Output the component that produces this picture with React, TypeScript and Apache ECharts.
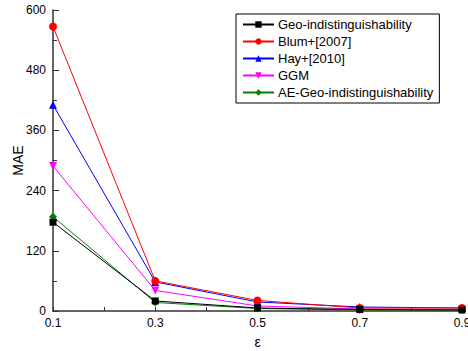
import React, { useEffect, useRef } from "react";
import * as echarts from "echarts";

const epsilons = [0.1, 0.3, 0.5, 0.7, 0.9];
const seriesNames = [
  "Geo-indistinguishability",
  "Blum+[2007]",
  "Hay+[2010]",
  "GGM",
  "AE-Geo-indistinguishability",
];
const geoInd = [177, 20, 6, 3, 2];
const blum = [567, 60, 21, 6, 6];
const hay = [411, 58, 18, 8, 6];
const ggm = [289, 41, 10, 4, 3];
const aeGeo = [188, 17, 5, 2, 2];
const yTicks = [0, 120, 240, 360, 480, 600];

const colors = ["#000000", "#ff0000", "#0000ff", "#ff00ff", "#008000"];
const symbols = [
  "rect",
  "circle",
  "triangle",
  "path://M0,0 L10,0 L5,10 Z",
  "diamond",
];
const symbolSizes = [7, 8, 8, 8, 8];

export default function App() {
  const ref = useRef<HTMLDivElement>(null);
  useEffect(() => {
    if (!ref.current) return;
    const chart = echarts.init(ref.current, undefined, { renderer: "svg" });
    const all = [geoInd, blum, hay, ggm, aeGeo];
    const font = "Liberation Sans, Arial, sans-serif";
    chart.setOption({
      animation: false,
      backgroundColor: "#ffffff",
      grid: {
        left: 53,
        right: 6,
        top: 10,
        bottom: 40,
        containLabel: false,
        outerBoundsMode: "none",
      },
      legend: {
        orient: "vertical",
        left: 236,
        top: 14,
        padding: [4, 6, 4, 6],
        borderColor: "#000",
        borderWidth: 1,
        itemWidth: 31,
        itemHeight: 8,
        itemGap: 4,
        textStyle: { fontFamily: font, fontSize: 13, color: "#000", padding: [0, 0, 0, -1] },
        data: seriesNames,
      },
      xAxis: {
        type: "value",
        min: 0.1,
        max: 0.9,
        interval: 0.1,
        name: "ε",
        nameLocation: "middle",
        nameGap: 24,
        nameMoveOverlap: false,
        nameTextStyle: { fontFamily: font, fontSize: 14, color: "#000" },
        axisLine: { show: true, lineStyle: { color: "#333", width: 1.5 } },
        axisTick: { show: true, inside: true, length: 4, lineStyle: { color: "#333" } },
        axisLabel: {
          fontFamily: font,
          fontSize: 12,
          color: "#000",
          margin: 6,
          formatter: (v: number) => {
            const r = Math.round(v * 10);
            return r % 2 === 1 ? (r / 10).toFixed(1) : "";
          },
        },
        splitLine: { show: false },
      },
      yAxis: {
        type: "value",
        min: yTicks[0],
        max: yTicks[yTicks.length - 1],
        interval: 120,
        name: "MAE",
        nameLocation: "middle",
        nameGap: 28,
        nameMoveOverlap: false,
        nameTextStyle: { fontFamily: font, fontSize: 14, color: "#000" },
        axisLine: { show: true, lineStyle: { color: "#333", width: 1.5 } },
        axisTick: { show: true, inside: true, length: 6, lineStyle: { color: "#333" } },
        minorTick: { show: true, splitNumber: 2, length: 4, lineStyle: { color: "#333" } },
        axisLabel: { fontFamily: font, fontSize: 12, color: "#000", margin: 7 },
        splitLine: { show: false },
      },
      series: seriesNames.map((name, i) => ({
        name,
        type: "line",
        data: epsilons.map((e, j) => [e, all[i][j]]),
        symbol: symbols[i],
        symbolSize: symbolSizes[i],
        showSymbol: true,
        itemStyle: { color: colors[i] },
        lineStyle: { color: colors[i], width: 1 },
        z: 10 - i,
      })),
    });
    return () => chart.dispose();
  }, []);
  return (
    <div
      ref={ref}
      style={{ position: "fixed", left: 0, top: 0, width: 468, height: 351, background: "#fff" }}
    />
  );
}
